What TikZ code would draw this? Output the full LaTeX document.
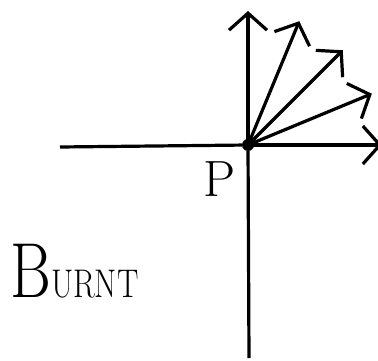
\documentclass[tikz,border=0pt]{standalone}
\usepackage{graphicx}
\usetikzlibrary{arrows.meta,positioning}

\begin{document}
\begin{tikzpicture}[
    x=1pt, y=1pt,
    axis/.style={line width=3.2pt},
    ray/.style={line width=3.2pt, -{Straight Barb[length=17pt,width=38pt,line width=3.2pt]}},
    point/.style={circle, fill, inner sep=0pt, minimum size=12pt},
    node distance=12pt and 8pt
]
\useasboundingbox (0,0) rectangle (378,360);

\node[point] (P) at (248,215) {};
\coordinate (west) at (60,213);
\coordinate (south) at (249,2);

\draw[axis] (west) -- (P);
\draw[axis] (P) -- (south);

\foreach \a [count=\i] in {0,22.5,45,67.5,90} {
    \path (P.center) ++(\a:134) coordinate (tip\i);
    \draw[ray] (P.center) -- (tip\i);
}

\node[font=\fontsize{51}{51}\selectfont, below left=of P, inner sep=0pt] (plabel) {P};

\node[anchor=base west, inner sep=0pt] (burnt) at (10,63)
    {\scalebox{0.8}[1]{\fontsize{78}{78}\selectfont B\fontsize{40}{40}\selectfont URNT}};
\end{tikzpicture}
\end{document}
